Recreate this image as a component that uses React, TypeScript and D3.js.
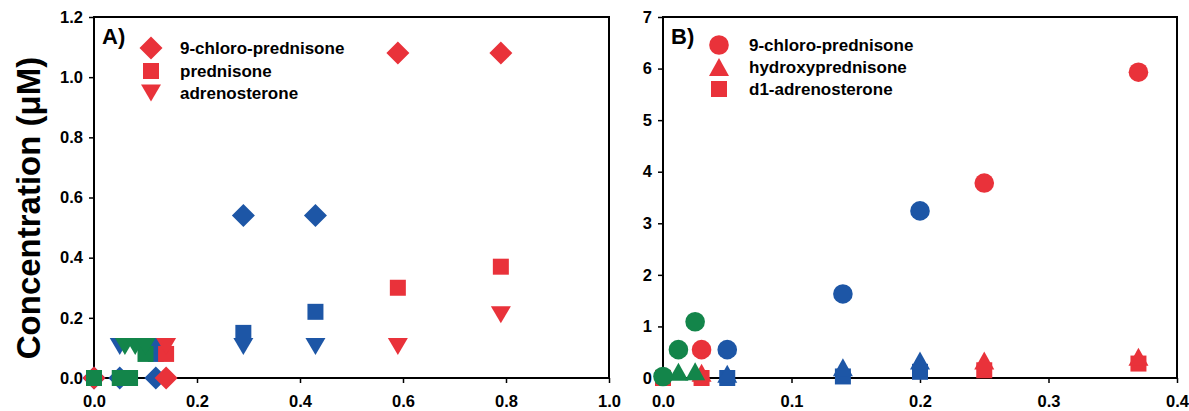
import { useEffect, useRef } from 'react';
import * as d3 from 'd3';

type Pt = [number, number];

const RED = '#e9323a';
const BLUE = '#1d56a6';
const GREEN = '#13854a';

// axis ticks
const xTicksA = [0, 0.2, 0.4, 0.6, 0.8, 1.0];
const yTicksA = [0, 0.2, 0.4, 0.6, 0.8, 1.0, 1.2];
const xTicksB = [0, 0.1, 0.2, 0.3, 0.4];
const yTicksB = [0, 1, 2, 3, 4, 5, 6, 7];

const legendA = ['9-chloro-prednisone', 'prednisone', 'adrenosterone'];
const legendB = ['9-chloro-prednisone', 'hydroxyprednisone', 'd1-adrenosterone'];

// panel A points [x, concentration]
const aBlueDiamond: Pt[] = [[0, 0], [0.05, 0], [0.12, 0], [0.29, 0.54], [0.43, 0.54]];
const aBlueSquare: Pt[] = [[0.12, 0.08], [0.29, 0.15], [0.43, 0.22]];
const aBlueTriangle: Pt[] = [[0.05, 0.105], [0.12, 0.105], [0.29, 0.105], [0.43, 0.105]];
const aRedDiamond: Pt[] = [[0, 0], [0.14, 0], [0.59, 1.08], [0.79, 1.08]];
const aRedSquare: Pt[] = [[0, 0], [0.14, 0.08], [0.59, 0.3], [0.79, 0.37]];
const aRedTriangle: Pt[] = [[0.14, 0.105], [0.59, 0.105], [0.79, 0.21]];
const aGreenSquare: Pt[] = [[0, 0], [0.05, 0], [0.07, 0], [0.1, 0.08]];
const aGreenTriangle: Pt[] = [[0.06, 0.105], [0.08, 0.105], [0.1, 0.105]];

// panel B points
const bBlueCircle: Pt[] = [[0.05, 0.55], [0.14, 1.63], [0.2, 3.24]];
const bBlueTriangle: Pt[] = [[0.05, 0.08], [0.14, 0.21], [0.2, 0.34]];
const bBlueSquare: Pt[] = [[0.05, 0], [0.14, 0.03], [0.2, 0.12]];
const bRedCircle: Pt[] = [[0.03, 0.55], [0.25, 3.78], [0.37, 5.93]];
const bRedSquare: Pt[] = [[0, 0], [0.03, 0], [0.25, 0.15], [0.37, 0.28]];
const bRedTriangle: Pt[] = [[0.03, 0.1], [0.25, 0.34], [0.37, 0.41]];
const bGreenCircle: Pt[] = [[0, 0.03], [0.012, 0.55], [0.025, 1.09]];
const bGreenTriangle: Pt[] = [[0.012, 0.12], [0.025, 0.13]];

const FONT = 'Liberation Sans, Arial, sans-serif';

function shapePath(shape: string) {
  const p = d3.path();
  if (shape === 'diamond') {
    const r = 11.5;
    p.moveTo(0, -r); p.lineTo(r, 0); p.lineTo(0, r); p.lineTo(-r, 0); p.closePath();
  } else if (shape === 'square') {
    const r = 8;
    p.rect(-r, -r, 2 * r, 2 * r);
  } else if (shape === 'down') {
    p.moveTo(-10, -8.5); p.lineTo(10, -8.5); p.lineTo(0, 8.5); p.closePath();
  } else if (shape === 'up') {
    p.moveTo(-10, 9); p.lineTo(10, 9); p.lineTo(0, -9); p.closePath();
  } else {
    p.arc(0, 0, 9.8, 0, Math.PI * 2);
  }
  return p.toString();
}

function drawPanel(svg, cfg) {
  const { left, right, top, bottom, xDom, yDom, xTicks, yTicks, xFmt, yFmt, series, tag, legend, legendShapes, legX, legY, textX } = cfg;
  const x = d3.scaleLinear().domain(xDom).range([left, right]);
  const y = d3.scaleLinear().domain(yDom).range([bottom, top]);
  const g = svg.append('g');

  // frame
  g.append('rect').attr('x', left).attr('y', top).attr('width', right - left).attr('height', bottom - top)
    .attr('fill', 'none').attr('stroke', '#000').attr('stroke-width', 2);

  const ax = g.append('g').attr('transform', `translate(0,${bottom})`)
    .call(d3.axisBottom(x).tickValues(xTicks).tickFormat(xFmt).tickSize(5).tickPadding(12));
  const ay = g.append('g').attr('transform', `translate(${left},0)`)
    .call(d3.axisLeft(y).tickValues(yTicks).tickFormat(yFmt).tickSize(5).tickPadding(6));
  [ax, ay].forEach(a => {
    a.select('.domain').remove();
    a.selectAll('line').attr('stroke', '#000').attr('stroke-width', 1.5);
    a.selectAll('text').attr('font-family', FONT).attr('font-weight', 700).attr('font-size', 16.5).attr('fill', '#000');
  });

  // data points
  series.forEach(s => {
    g.append('g').selectAll('path').data(s.pts).join('path')
      .attr('d', shapePath(s.shape))
      .attr('transform', d => `translate(${x(d[0])},${y(d[1])})`)
      .attr('fill', s.color);
  });

  g.append('text').attr('x', left + 8).attr('y', 44)
    .attr('font-family', FONT).attr('font-weight', 700).attr('font-size', 22).text(tag);

  legend.forEach((name, i) => {
    const cy = legY[i];
    g.append('path').attr('d', shapePath(legendShapes[i])).attr('transform', `translate(${legX},${cy})`).attr('fill', RED);
    g.append('text').attr('x', textX).attr('y', cy).attr('dy', '0.36em')
      .attr('font-family', FONT).attr('font-weight', 700).attr('font-size', 17).text(name);
  });
}

export default function App() {
  const svgRef = useRef(null);

  useEffect(() => {
    const svg = d3.select(svgRef.current);
    svg.selectAll('*').remove();
    svg.append('rect').attr('width', 1189).attr('height', 411).attr('fill', '#fff');

    drawPanel(svg, {
      left: 94, right: 609, top: 17, bottom: 378,
      xDom: [0, 1], yDom: [0, 1.2], xTicks: xTicksA, yTicks: yTicksA,
      xFmt: d3.format('.1f'), yFmt: d3.format('.1f'),
      series: [
        { pts: aBlueDiamond, shape: 'diamond', color: BLUE },
        { pts: aBlueSquare, shape: 'square', color: BLUE },
        { pts: aBlueTriangle, shape: 'down', color: BLUE },
        { pts: aRedDiamond, shape: 'diamond', color: RED },
        { pts: aRedSquare, shape: 'square', color: RED },
        { pts: aRedTriangle, shape: 'down', color: RED },
        { pts: aGreenSquare, shape: 'square', color: GREEN },
        { pts: aGreenTriangle, shape: 'down', color: GREEN },
      ],
      tag: 'A)', legend: legendA, legendShapes: ['diamond', 'square', 'down'],
      legX: 151, legY: [48, 71, 93], textX: 180,
    });

    drawPanel(svg, {
      left: 663, right: 1177, top: 17, bottom: 378,
      xDom: [0, 0.4], yDom: [0, 7], xTicks: xTicksB, yTicks: yTicksB,
      xFmt: d3.format('.1f'), yFmt: d3.format('d'),
      series: [
        { pts: bBlueSquare, shape: 'square', color: BLUE },
        { pts: bBlueTriangle, shape: 'up', color: BLUE },
        { pts: bBlueCircle, shape: 'circle', color: BLUE },
        { pts: bRedSquare, shape: 'square', color: RED },
        { pts: bRedTriangle, shape: 'up', color: RED },
        { pts: bRedCircle, shape: 'circle', color: RED },
        { pts: bGreenTriangle, shape: 'up', color: GREEN },
        { pts: bGreenCircle, shape: 'circle', color: GREEN },
      ],
      tag: 'B)', legend: legendB, legendShapes: ['circle', 'up', 'square'],
      legX: 719, legY: [45, 67, 89], textX: 749,
    });

    // shared y title
    svg.append('text').attr('transform', 'translate(40,208) rotate(-90)')
      .attr('text-anchor', 'middle').attr('font-family', FONT).attr('font-weight', 700)
      .attr('font-size', 33).text('Concentration (\u03bcM)');
  }, []);

  return (
    <svg ref={svgRef} width={1189} height={411}
      style={{ position: 'fixed', left: 0, top: 0, display: 'block' }} />
  );
}
